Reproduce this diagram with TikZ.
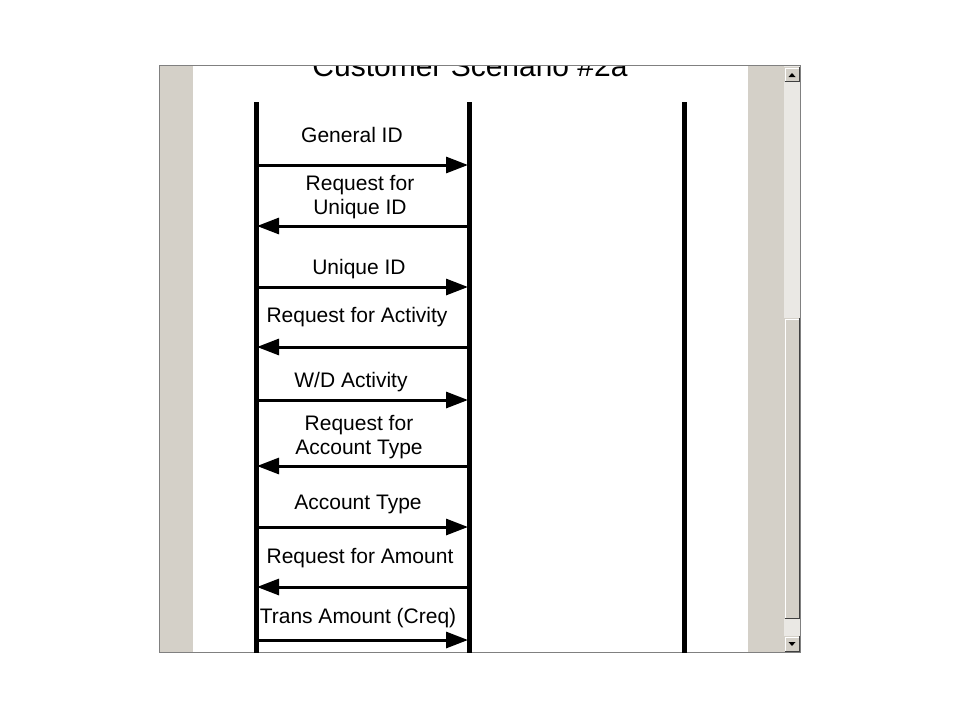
\documentclass[tikz,border=0pt]{standalone}
\usepackage{fontspec}
\setmainfont{Liberation Sans}
\usetikzlibrary{arrows.meta}
\definecolor{winbg}{HTML}{D4D0C8}
\definecolor{trackc}{HTML}{EAE8E4}
\definecolor{framec}{HTML}{808080}
\definecolor{shadowc}{HTML}{404040}
\tikzset{
  lifeline/.style={line width=5pt},
  msg/.style={line width=3pt, -{Triangle[length=22pt,width=16pt]}, shorten >=-1pt},
  lbl/.style={font=\fontsize{21}{24.5}\selectfont, align=center, inner sep=0pt},
  btn/.style={fill=winbg},
}
\begin{document}
\begin{tikzpicture}[x=1pt,y=-1pt]
\useasboundingbox (0,0) rectangle (960,720);
\fill[white] (0,0) rectangle (960,720);
% window panes
\fill[white] (159,65) rectangle (801,653);
\fill[winbg] (160,66) rectangle (193,653);
\fill[winbg] (748,66) rectangle (784,653);
% scrollbar
\fill[trackc] (784,66) rectangle (800,653);
% up button
\fill[btn] (784,67) rectangle (800,82);
\draw[white, line width=1pt] (785,81) -- (785,68) -- (799,68);
\draw[shadowc, line width=1pt] (785,81.5) -- (799.5,81.5) -- (799.5,67);
\fill[black] (788.5,77) -- (795.5,77) -- (792,73) -- cycle;
% thumb
\fill[btn] (784,318) rectangle (800,619);
\draw[white, line width=1pt] (785,618) -- (785,319) -- (799,319);
\draw[shadowc, line width=1pt] (785,618.5) -- (799.5,618.5) -- (799.5,318);
% down button
\fill[btn] (784,636) rectangle (800,652);
\draw[white, line width=1pt] (785,651) -- (785,637) -- (799,637);
\draw[shadowc, line width=1pt] (785,651.5) -- (799.5,651.5) -- (799.5,636);
\fill[black] (788.5,642) -- (795.5,642) -- (792,646) -- cycle;
% clipped title
\begin{scope}
\clip (159,66) rectangle (801,653);
\node[font=\fontsize{30}{36}\selectfont, anchor=base, inner sep=0pt] (title) at (470,76) {Customer Scenario \#2a};
\end{scope}
% frame border
\draw[framec, line width=1pt] (159.5,65.5) rectangle (800.5,652.5);
% lifelines
\coordinate (Ltop) at (256,102); \coordinate (Lbot) at (256,653);
\coordinate (Mtop) at (469,102); \coordinate (Mbot) at (469,653);
\coordinate (Rtop) at (684,102); \coordinate (Rbot) at (684,653);
\draw[lifeline] (Ltop) -- (Lbot);
\draw[lifeline] (Mtop) -- (Mbot);
\draw[lifeline] (Rtop) -- (Rbot);
% message endpoints
\foreach \n/\y in {1/165,2/226,3/287,4/347,5/400,6/466,7/527,8/587,9/640}{
  \coordinate (a\n) at (258,\y);
  \coordinate (b\n) at (467,\y);
}
% messages
\draw[msg] (a1) -- (b1);
\draw[msg] (b2) -- (a2);
\draw[msg] (a3) -- (b3);
\draw[msg] (b4) -- (a4);
\draw[msg] (a5) -- (b5);
\draw[msg] (b6) -- (a6);
\draw[msg] (a7) -- (b7);
\draw[msg] (b8) -- (a8);
\draw[msg] (a9) -- (b9);
% labels
\node[lbl] (l1) at (352,135) {General ID};
\node[lbl] (l2) at (360,197) {Request for\\Unique ID};
\node[lbl] (l3) at (359,269.5) {Unique ID};
\node[lbl] (l4) at (357,317.5) {Request for Activity};
\node[lbl] (l5) at (351,382.5) {W/D Activity};
\node[lbl] (l6) at (359,437) {Request for\\Account Type};
\node[lbl] (l7) at (358,504.5) {Account Type};
\node[lbl] (l8) at (360,558.5) {Request for Amount};
\node[lbl] (l9) at (358,618.5) {Trans Amount (Creq)};
\end{tikzpicture}
\end{document}
